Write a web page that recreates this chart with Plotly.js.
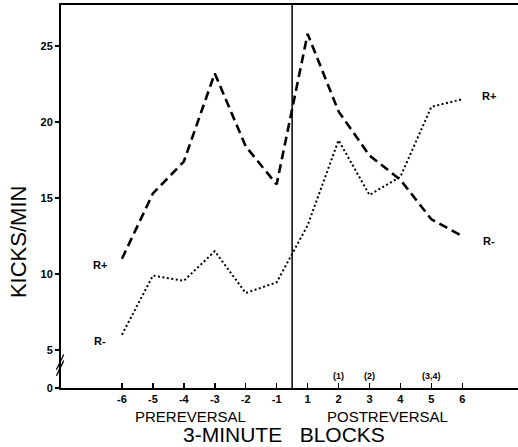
<!DOCTYPE html>
<html>
<head>
<meta charset="utf-8">
<script src="https://cdn.plot.ly/plotly-3.0.1.min.js"></script>
<style>html,body{margin:0;padding:0;background:#fff;}#chart{width:518px;height:447px;}</style>
</head>
<body>
<div id="chart"></div>
<script>
// Block labels (3-minute blocks), pre- and post-reversal
var blockLabels = ['-6','-5','-4','-3','-2','-1','1','2','3','4','5','6'];
// Dashed series: R+ before reversal, R- after reversal
var dashedValues = [11.0, 15.3, 17.4, 23.2, 18.4, 15.9, 25.8, 20.7, 17.8, 16.2, 13.6, 12.5];
// Dotted series: R- before reversal, R+ after reversal
var dottedValues = [6.0, 9.9, 9.55, 11.5, 8.75, 9.45, 13.2, 18.8, 15.2, 16.4, 21.0, 21.5];
var yTickVals = [2.5, 5, 10, 15, 20, 25];
var yTickText = ['0', '5', '10', '15', '20', '25'];

var xpos = blockLabels.map(function(_, i){ return i + 1; });

var traces = [
  {x: xpos, y: dashedValues, mode: 'lines', line: {color: '#000', width: 2.6, dash: '9px,5px'}, hoverinfo: 'skip'},
  {x: xpos, y: dottedValues, mode: 'lines', line: {color: '#000', width: 2, dash: '2px,2.5px'}, hoverinfo: 'skip'}
];

var fam = 'Liberation Sans, Arial, sans-serif';
function bold(a){ return a.map(function(s){ return '<b>' + s + '</b>'; }); }
var layout = {
  width: 518, height: 447,
  margin: {l: 61, r: 0, t: 5, b: 59},
  paper_bgcolor: '#fff', plot_bgcolor: '#fff',
  showlegend: false,
  xaxis: {
    range: [-0.97, 13.8], tickvals: xpos, ticktext: bold(blockLabels),
    showgrid: false, zeroline: false, showline: true, mirror: true, linecolor: '#000', linewidth: 2,
    ticks: 'inside', ticklen: 5, tickwidth: 1.5, tickcolor: '#000',
    tickfont: {family: fam, size: 11, color: '#000'}
  },
  yaxis: {
    range: [2.5, 27.7], tickvals: yTickVals, ticktext: bold(yTickText),
    showgrid: false, zeroline: false, showline: true, linecolor: '#000', linewidth: 2,
    ticks: 'outside', ticklen: 4, tickwidth: 1.5, tickcolor: '#000',
    tickfont: {family: fam, size: 11, color: '#000'}
  },
  shapes: [
    {type: 'line', xref: 'x', yref: 'paper', x0: 6.5, x1: 6.5, y0: 0, y1: 1, line: {color: '#000', width: 1.5}},
    {type: 'line', xref: 'paper', yref: 'y', x0: -0.01, x1: 0.006, y0: 3.3, y1: 4.3, line: {color: '#000', width: 1.3}},
    {type: 'line', xref: 'paper', yref: 'y', x0: -0.01, x1: 0.006, y0: 3.7, y1: 4.7, line: {color: '#000', width: 1.3}}
  ],
  annotations: [
    {x: 0.3, y: 10.6, xref: 'x', yref: 'y', text: '<b>R+</b>', showarrow: false, font: {family: fam, size: 11, color: '#000'}},
    {x: 0.3, y: 5.6, xref: 'x', yref: 'y', text: '<b>R-</b>', showarrow: false, font: {family: fam, size: 11, color: '#000'}},
    {x: 12.85, y: 21.7, xref: 'x', yref: 'y', text: '<b>R+</b>', showarrow: false, font: {family: fam, size: 11, color: '#000'}},
    {x: 12.85, y: 12.2, xref: 'x', yref: 'y', text: '<b>R-</b>', showarrow: false, font: {family: fam, size: 11, color: '#000'}},
    {x: 8, y: 3.3, xref: 'x', yref: 'y', text: '<b>(1)</b>', showarrow: false, font: {family: fam, size: 9, color: '#000'}},
    {x: 9, y: 3.3, xref: 'x', yref: 'y', text: '<b>(2)</b>', showarrow: false, font: {family: fam, size: 9, color: '#000'}},
    {x: 11, y: 3.3, xref: 'x', yref: 'y', text: '<b>(3,4)</b>', showarrow: false, font: {family: fam, size: 9, color: '#000'}},
    {x: 3.2, y: 0, xref: 'x', yref: 'paper', yanchor: 'middle', yshift: -28, text: 'PREREVERSAL', showarrow: false, font: {family: fam, size: 15, color: '#000'}},
    {x: 9.58, y: 0, xref: 'x', yref: 'paper', yanchor: 'middle', yshift: -28, text: 'POSTREVERSAL', showarrow: false, font: {family: fam, size: 15, color: '#000'}},
    {x: 6.24, y: 0, xref: 'x', yref: 'paper', yanchor: 'middle', yshift: -46, text: '3-MINUTE   BLOCKS', showarrow: false, font: {family: fam, size: 21, color: '#000'}},
    {x: 0, y: 0.381, xref: 'paper', yref: 'paper', xanchor: 'center', yanchor: 'middle', xshift: -43, textangle: -90, text: 'KICKS/MIN', showarrow: false, font: {family: fam, size: 22, color: '#000'}}
  ]
};

Plotly.newPlot('chart', traces, layout, {staticPlot: true, displayModeBar: false});
</script>
</body>
</html>
